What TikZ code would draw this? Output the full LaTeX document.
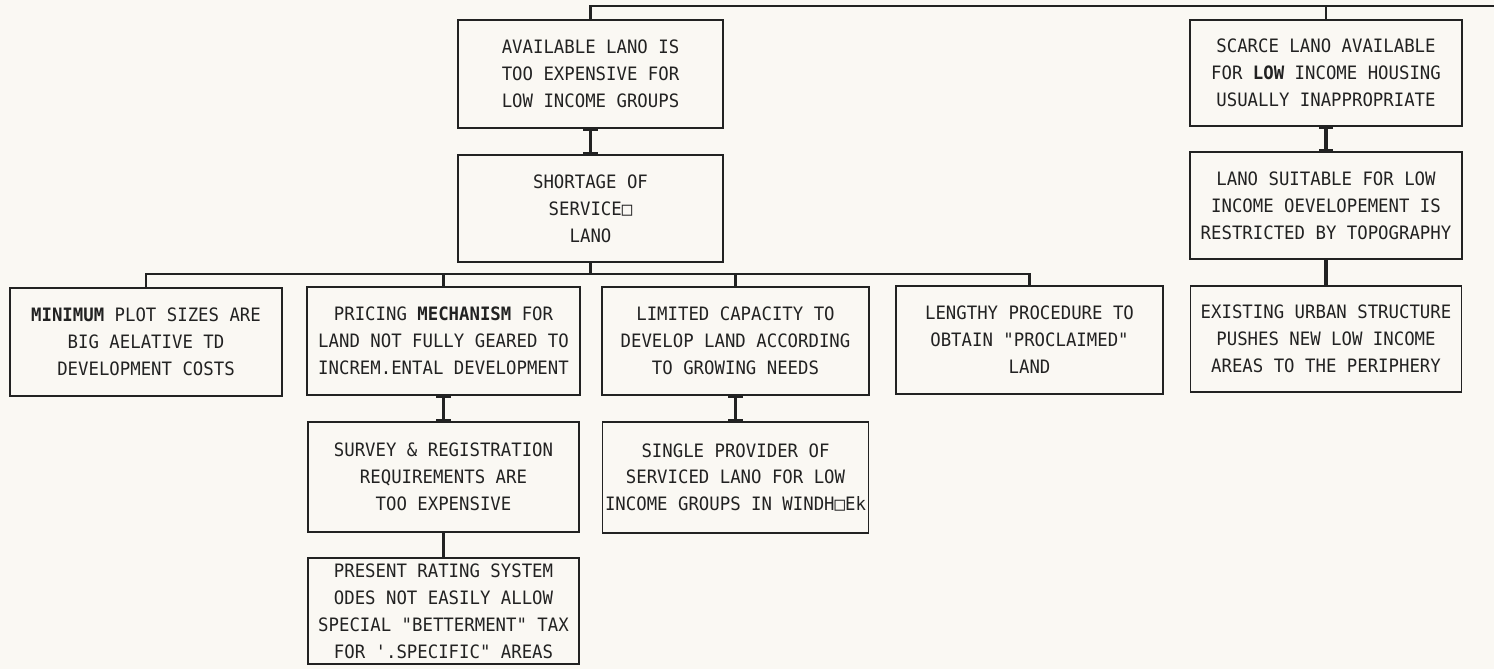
\documentclass[tikz,border=0pt]{standalone}
\usepackage{fontspec}
\setmonofont[FakeStretch=0.94]{DejaVu Sans Mono}
\usetikzlibrary{arrows.meta}
\definecolor{paper}{RGB}{250,248,243}
\definecolor{ink}{RGB}{34,34,34}
\begin{document}
\begin{tikzpicture}[x=0.02cm, y=-0.02cm,
	cause/.style={draw=ink, line width=1pt, text=ink, align=center, inner sep=0pt, font=\ttfamily\fontsize{10.5}{15.3}\selectfont},
	bus/.style={draw=ink, line width=1.5pt},
	stem/.style={draw=ink, line width=2pt, {Bar[width=8pt,line width=1pt]}-{Bar[width=8pt,line width=1pt]}},
	link/.style={draw=ink, line width=2pt}]
			\fill[paper] (0,0) rectangle (1494,669);
			\useasboundingbox (0,0) rectangle (1494,669);
			\node[cause, minimum width=5.3cm, minimum height=2.16cm] (avail) at (590.5,74) {AVAILABLE LANO IS\\TOO EXPENSIVE FOR\\LOW INCOME GROUPS};
			\node[cause, minimum width=5.3cm, minimum height=2.14cm] (short) at (590.5,208.5) {SHORTAGE OF\\SERVICE□\\LANO};
			\node[cause, minimum width=5.44cm, minimum height=2.12cm] (scarce) at (1326,73) {SCARCE LANO AVAILABLE\\FOR \textbf{LOW} INCOME HOUSING\\USUALLY INAPPROPRIATE};
			\node[cause, minimum width=5.44cm, minimum height=2.14cm] (suit) at (1326,205.5) {LANO SUITABLE FOR LOW\\INCOME OEVELOPEMENT IS\\RESTRICTED BY TOPOGRAPHY};
			\node[cause, minimum width=5.42cm, minimum height=2.12cm] (exist) at (1326,339) {EXISTING URBAN STRUCTURE\\PUSHES NEW LOW INCOME\\AREAS TO THE PERIPHERY};
			\node[cause, minimum width=5.44cm, minimum height=2.16cm] (mini) at (146,342) {\textbf{MINIMUM} PLOT SIZES ARE\\BIG AELATIVE TD\\DEVELOPMENT COSTS};
			\node[cause, minimum width=5.46cm, minimum height=2.16cm] (pricing) at (443.5,341) {PRICING \textbf{MECHANISM} FOR\\LAND NOT FULLY GEARED TO\\INCREM.ENTAL DEVELOPMENT};
			\node[cause, minimum width=5.34cm, minimum height=2.16cm] (limited) at (735.5,341) {LIMITED CAPACITY TO\\DEVELOP LAND ACCORDING\\TO GROWING NEEDS};
			\node[cause, minimum width=5.34cm, minimum height=2.16cm] (lengthy) at (1029.5,340) {LENGTHY PROCEDURE TO\\OBTAIN "PROCLAIMED"\\LAND};
			\node[cause, minimum width=5.42cm, minimum height=2.2cm] (survey) at (443.5,477) {SURVEY \& REGISTRATION\\REQUIREMENTS ARE\\TOO EXPENSIVE};
			\node[cause, minimum width=5.32cm, minimum height=2.22cm] (single) at (735.5,477.5) {SINGLE PROVIDER OF\\SERVICED LANO FOR LOW\\INCOME GROUPS IN WINDH□Ek};
			\node[cause, minimum width=5.42cm, minimum height=2.12cm] (present) at (443.5,611) {PRESENT RATING SYSTEM\\ODES NOT EASILY ALLOW\\SPECIAL "BETTERMENT" TAX\\FOR '.SPECIFIC" AREAS};
			\coordinate (topend) at (1494,6);
			\coordinate (hub) at (590.5,274);
			\draw[bus] (avail.north) |- (topend);
			\draw[bus] (scarce.north) -- (scarce.north |- topend);
			\draw[bus] (short.south) -- (hub);
			\draw[bus] (mini.north) |- (hub) -| (lengthy.north);
			\draw[bus] (pricing.north) -- (pricing.north |- hub);
			\draw[bus] (limited.north) -- (limited.north |- hub);
			\draw[stem] (avail.south) -- (short.north);
			\draw[stem] (pricing.south) -- (survey.north);
			\draw[stem] (limited.south) -- (single.north);
			\draw[stem] (scarce.south) -- (suit.north);
			\draw[link] (suit.south) -- (exist.north);
			\draw[link] (survey.south) -- (present.north);
		\end{tikzpicture}
\end{document}
